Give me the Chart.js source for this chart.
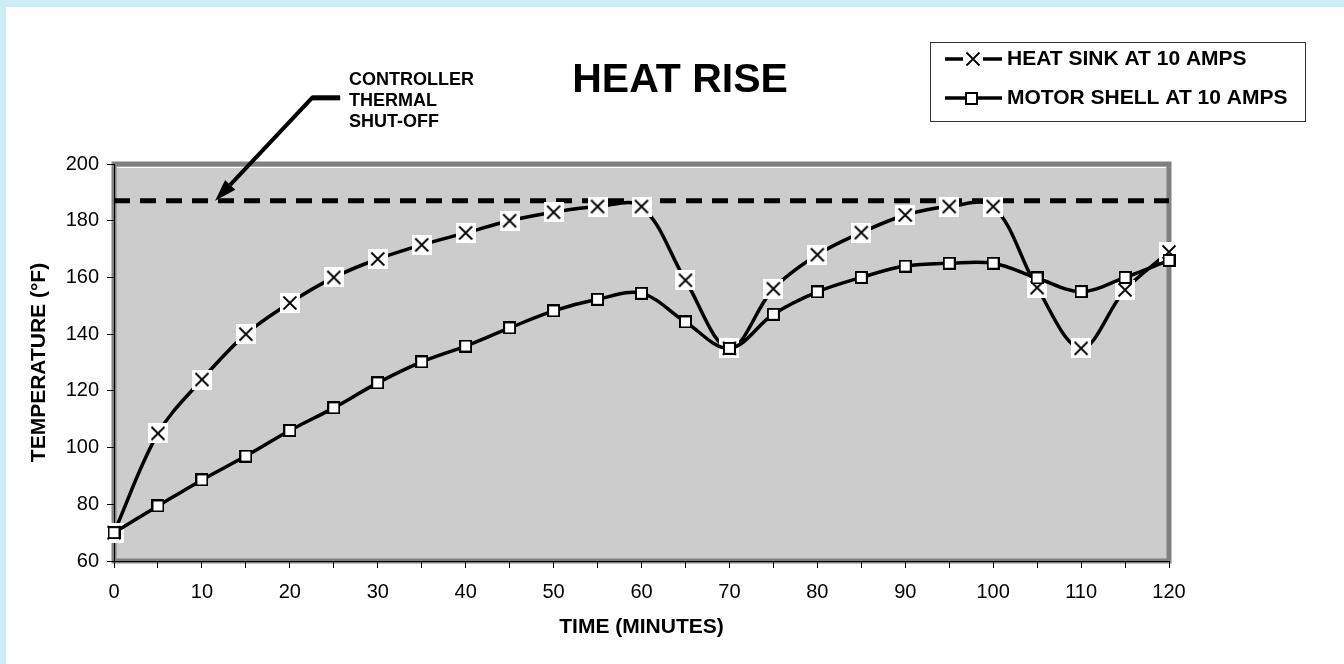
<!DOCTYPE html>
<html>
<head>
<meta charset="utf-8">
<title>Heat Rise</title>
<script src="https://cdn.jsdelivr.net/npm/chart.js@4.4.1/dist/chart.umd.min.js"></script>
<style>
  html, body { margin: 0; padding: 0; background: #fff; }
  #wrap { position: relative; width: 1344px; height: 664px; overflow: hidden; }
  #wrap canvas { position: absolute; left: 0; top: 0; }
  .edge-top { position: absolute; left: 0; top: 0; width: 1344px; height: 7px; background: #cdebf4; }
  .edge-left { position: absolute; left: 0; top: 0; width: 6px; height: 664px; background: #cdebf4; }
</style>
</head>
<body>
<div id="wrap">
  <canvas id="heat-chart" width="1344" height="664"></canvas>
  <div class="edge-top"></div>
  <div class="edge-left"></div>
</div>
<script>
// readings
const minutes = [0, 5, 10, 15, 20, 25, 30, 35, 40, 45, 50, 55, 60,
                 65, 70, 75, 80, 85, 90, 95, 100, 105, 110, 115, 120];
const heatSink = [70, 105, 124, 140, 151, 160, 166.5, 171.5, 175.7, 180, 183, 185, 185,
                  159, 135, 156, 168, 175.8, 182, 185, 185, 156.4, 135, 155.6, 169];
const motorShell = [70, 79.4, 88.6, 97, 106, 114, 122.8, 130.2, 135.8, 142.2, 148.2, 152.3, 154.4,
                    144.3, 135, 147, 154.9, 160, 164, 165, 165, 159.8, 155, 160, 166];
const shutOffTemp = 187;
const timeRange = [0, 120];
const tempTicks = [60, 80, 100, 120, 140, 160, 180, 200];
const timeLabelStep = 10;

const seriesNames = ['HEAT SINK AT 10 AMPS', 'MOTOR SHELL AT 10 AMPS'];
const chartTitle = 'HEAT RISE';
const noteLines = ['CONTROLLER', 'THERMAL', 'SHUT-OFF'];
const arrowAtMinute = 11.5;

const FONT = '"Liberation Sans", Arial, sans-serif';
Chart.defaults.font.family = FONT;
Chart.defaults.color = '#000';

function crossMarker() {
    const c = document.createElement('canvas');
    c.width = 20; c.height = 20;
    const g = c.getContext('2d');
    g.fillStyle = '#fff';
    g.fillRect(0, 0, 20, 20);
    g.strokeStyle = '#000';
    g.lineWidth = 1.8;
    g.beginPath();
    g.moveTo(3.5, 3.5); g.lineTo(16.5, 16.5);
    g.moveTo(16.5, 3.5); g.lineTo(3.5, 16.5);
    g.stroke();
    return c;
}

function squareMarker() {
    const c = document.createElement('canvas');
    c.width = 13; c.height = 13;
    const g = c.getContext('2d');
    g.fillStyle = '#000';
    g.fillRect(0, 0, 13, 13);
    g.fillStyle = '#fff';
    g.fillRect(2, 2, 9, 9);
    return c;
}

const xMark = crossMarker();
const sqMark = squareMarker();

// gray plot area with the sunken frame
const plotFrame = {
    id: 'plotFrame',
    beforeDraw(chart) {
        const { ctx, chartArea: a } = chart;
        ctx.save();
        ctx.fillStyle = '#cccccc';
        ctx.fillRect(a.left, a.top, a.right - a.left, a.bottom - a.top);
        ctx.strokeStyle = '#808080';
        ctx.lineWidth = 5;
        ctx.strokeRect(a.left, a.top, a.right - a.left, a.bottom - a.top);
        ctx.strokeStyle = '#ffffff';
        ctx.lineWidth = 1;
        ctx.beginPath();
        ctx.moveTo(a.left + 3, a.top + 3.5);
        ctx.lineTo(a.right - 3, a.top + 3.5);
        ctx.stroke();
        ctx.restore();
    }
};

// title, legend box and the shut-off callout
const extras = {
    id: 'extras',
    afterDraw(chart) {
        const { ctx } = chart;
        const xs = chart.scales.x, ys = chart.scales.y;
        ctx.save();
        ctx.fillStyle = '#000';
        ctx.textBaseline = 'middle';

        ctx.font = 'bold 41px ' + FONT;
        ctx.textAlign = 'center';
        ctx.fillText(chartTitle, 680, 81);

        // callout text
        ctx.font = 'bold 18px ' + FONT;
        ctx.textAlign = 'left';
        noteLines.forEach((t, i) => ctx.fillText(t, 349, 80 + i * 21));

        // arrow from the note down to the dashed line
        const tipX = xs.getPixelForValue(arrowAtMinute);
        const tipY = ys.getPixelForValue(shutOffTemp);
        const elbowX = tipX + 97, elbowY = tipY - 103;
        const len = Math.hypot(elbowX - tipX, elbowY - tipY);
        const ux = (elbowX - tipX) / len, uy = (elbowY - tipY) / len;
        const bx = tipX + ux * 22, by = tipY + uy * 22;
        ctx.strokeStyle = '#000';
        ctx.lineJoin = 'miter';
        ctx.lineWidth = 4;
        ctx.beginPath();
        ctx.moveTo(bx, by);
        ctx.lineTo(elbowX, elbowY);
        ctx.lineTo(elbowX + 28, elbowY);
        ctx.stroke();
        ctx.lineWidth = 5;
        ctx.beginPath();
        ctx.moveTo(elbowX, elbowY);
        ctx.lineTo(elbowX + 28, elbowY);
        ctx.stroke();
        ctx.beginPath();
        ctx.moveTo(tipX, tipY);
        ctx.lineTo(bx - uy * 7, by + ux * 7);
        ctx.lineTo(bx + uy * 7, by - ux * 7);
        ctx.closePath();
        ctx.fill();

        // legend
        ctx.fillStyle = '#fff';
        ctx.fillRect(930, 42, 375, 79);
        ctx.strokeStyle = '#333';
        ctx.lineWidth = 1;
        ctx.strokeRect(930.5, 42.5, 375, 79);
        const rows = [
            { y: 59, mark: xMark, mx: 973 },
            { y: 98, mark: sqMark, mx: 971 }
        ];
        rows.forEach((r, i) => {
            ctx.strokeStyle = '#000';
            ctx.lineWidth = 3.5;
            ctx.beginPath();
            ctx.moveTo(945, r.y);
            ctx.lineTo(1002, r.y);
            ctx.stroke();
            ctx.drawImage(r.mark, Math.round(r.mx - r.mark.width / 2), Math.round(r.y - r.mark.height / 2));
            ctx.fillStyle = '#000';
            ctx.font = 'bold 21px ' + FONT;
            ctx.fillText(seriesNames[i], 1007, r.y);
        });
        ctx.restore();
    }
};

const ctx = document.getElementById('heat-chart').getContext('2d');
const heatChart = new Chart(ctx, {
    type: 'line',
    data: {
        datasets: [
            {
                label: 'shut-off',
                data: timeRange.map(m => ({ x: m, y: shutOffTemp })),
                borderColor: '#000',
                borderWidth: 5,
                borderDash: [16, 10],
                pointRadius: 0,
                tension: 0,
                clip: false,
                order: 3
            },
            {
                label: seriesNames[0],
                data: minutes.map((m, i) => ({ x: m, y: heatSink[i] })),
                borderColor: '#000',
                borderWidth: 3.5,
                pointStyle: xMark,
                pointRadius: 6,
                tension: 0.35,
                clip: false,
                order: 2
            },
            {
                label: seriesNames[1],
                data: minutes.map((m, i) => ({ x: m, y: motorShell[i] })),
                borderColor: '#000',
                borderWidth: 3.5,
                pointStyle: sqMark,
                pointRadius: 6,
                tension: 0.35,
                clip: false,
                order: 1
            }
        ]
    },
    options: {
        responsive: false,
        animation: false,
        events: [],
        layout: { padding: { left: 14, top: 164, right: 175, bottom: 0 } },
        plugins: {
            legend: { display: false },
            tooltip: { enabled: false },
            title: { display: false }
        },
        scales: {
            x: {
                type: 'linear',
                min: timeRange[0],
                max: timeRange[1],
                afterFit: s => { s.height = 103; },
                ticks: {
                    stepSize: 5,
                    padding: 12,
                    maxRotation: 0,
                    autoSkip: false,
                    font: { size: 20 },
                    callback: v => (v % timeLabelStep === 0 ? String(v) : '')
                },
                grid: { drawOnChartArea: false, drawTicks: true, tickLength: 7, color: '#000' },
                border: { display: true, color: '#000', width: 1 },
                title: {
                    display: true,
                    text: 'TIME (MINUTES)',
                    font: { size: 21, weight: 'bold' },
                    padding: { top: 0, bottom: 24 }
                }
            },
            y: {
                min: tempTicks[0],
                max: tempTicks[tempTicks.length - 1],
                afterFit: s => { s.width = 100; },
                afterBuildTicks: s => { s.ticks = tempTicks.map(v => ({ value: v })); },
                ticks: { padding: 8, font: { size: 20 } },
                grid: { drawOnChartArea: false, drawTicks: true, tickLength: 7, color: '#000' },
                border: { display: true, color: '#000', width: 1 },
                title: {
                    display: true,
                    text: 'TEMPERATURE (°F)',
                    font: { size: 21, weight: 'bold' },
                    padding: { top: 13, bottom: 0 }
                }
            }
        }
    },
    plugins: [plotFrame, extras]
});
</script>
</body>
</html>
